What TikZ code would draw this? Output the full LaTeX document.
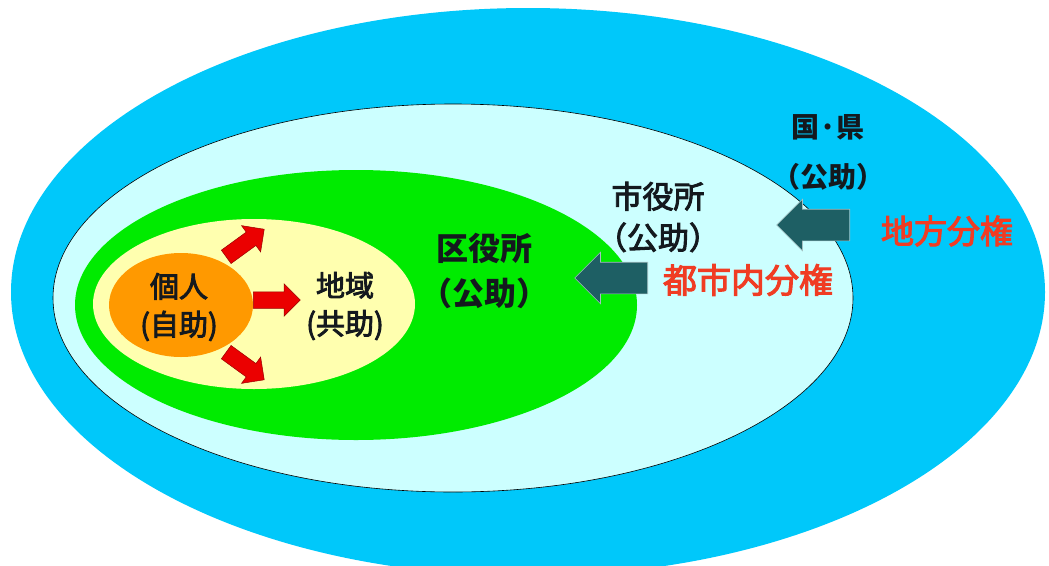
\documentclass[tikz,border=0pt]{standalone}
\usepackage{fontspec}
\setmainfont{Noto Sans CJK JP}
\newfontfamily\midfont[UprightFeatures={FakeBold=3}]{Noto Sans CJK JP}
\usetikzlibrary{shapes.geometric, shapes.arrows}

\definecolor{kenblue}{RGB}{0,200,250}
\definecolor{shicyan}{RGB}{204,255,255}
\definecolor{kugreen}{RGB}{0,235,0}
\definecolor{chiikiyellow}{RGB}{255,255,175}
\definecolor{kojinorange}{RGB}{255,153,0}
\definecolor{bunkenred}{RGB}{240,60,35}
\definecolor{arrowteal}{RGB}{30,95,100}
\definecolor{textdark}{RGB}{20,25,30}

\tikzset{
  area/.style={ellipse, inner sep=0pt},
  redarrow/.style={single arrow, fill=red!92!black, draw=red!60!black, line width=0.5pt,
    inner xsep=0pt, inner ysep=8pt, single arrow head extend=8pt, minimum height=47pt, anchor=tail},
  tealarrow/.style={single arrow, fill=arrowteal, draw=arrowteal!40!white, line width=0.6pt,
    inner xsep=0pt, inner ysep=15.5pt, single arrow head extend=10pt, minimum height=73pt, anchor=tail},
  lbl/.style={text=textdark, align=center, inner sep=0pt}
}

\begin{document}
\begin{tikzpicture}[x=1pt, y=-1pt]
\clip (0,0) rectangle (1049,565);
\fill[white] (0,0) rectangle (1049,565);
% nested areas
\node (kuni) at (528, 292) [area, fill=kenblue, minimum width=1034pt, minimum height=568pt] {};
\node (shi) at (453, 298) [area, fill=shicyan, draw=black, line width=0.6pt, minimum width=800pt, minimum height=388pt] {};
\node (ku) at (356, 305) [area, fill=kugreen, minimum width=562pt, minimum height=270pt] {};
\node (chiiki) at (254, 304) [area, fill=chiikiyellow, minimum width=322pt, minimum height=170pt] {};
\node (kojin) at (181, 305) [area, fill=kojinorange, minimum width=144pt, minimum height=104pt] {};
% arrows
\node (ya1) at (226, 257) [redarrow, rotate=36] {};
\node (ya2) at (253, 300) [redarrow] {};
\node (ya3) at (226, 352) [redarrow, rotate=-36] {};
\node (ya4) at (648, 278) [tealarrow, rotate=180] {};
\node (ya5) at (850, 225) [tealarrow, rotate=180] {};
% labels
\node (kojintxt) at (179, 307) [lbl, font=\midfont\fontsize{29}{38}\selectfont] {個人\\(自助)};
\node (chiikitxt) at (345, 306) [lbl, font=\midfont\fontsize{29}{38}\selectfont] {地域\\(共助)};
\node (kutxt) at (484, 271) [lbl, font=\bfseries\fontsize{32}{45}\selectfont] {区役所\\（公助）};
\node (shitxt) at (658, 217) [lbl, font=\midfont\fontsize{31}{41}\selectfont] {市役所\\（公助）};
\node (kunitxt) at (828, 152) [lbl, font=\bfseries\fontsize{28}{50}\selectfont] {国·県\\（公助）};
\node (toshitxt) at (748, 280) [lbl, text=bunkenred, font=\midfont\fontsize{34}{40}\selectfont] {都市内分権};
\node (chihotxt) at (947, 231) [lbl, text=bunkenred, font=\midfont\fontsize{33}{40}\selectfont] {地方分権};
\end{tikzpicture}
\end{document}
